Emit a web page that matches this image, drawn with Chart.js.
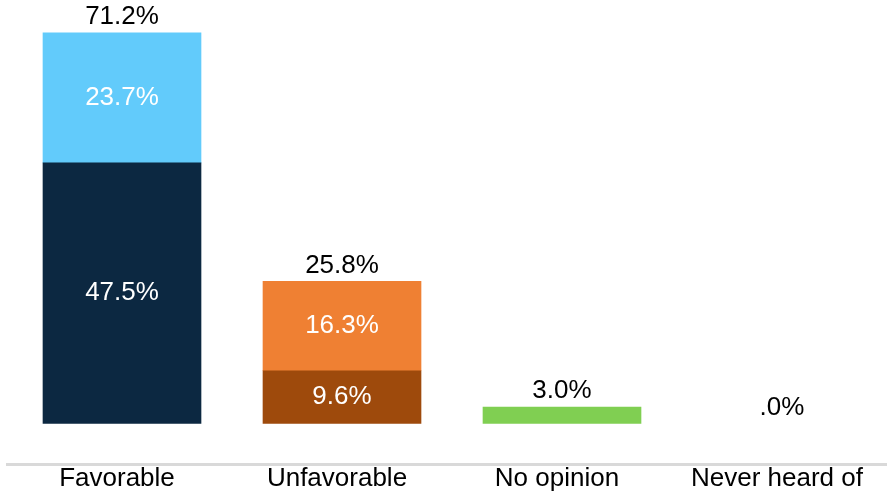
<!DOCTYPE html>
<html>
<head>
<meta charset="utf-8">
<script src="https://cdn.jsdelivr.net/npm/chart.js@4/dist/chart.umd.min.js"></script>
<style>
  html, body { margin: 0; padding: 0; background: #fff; }
  #wrap { width: 887px; height: 493px; }
</style>
</head>
<body>
<div id="wrap"><canvas id="chart"></canvas></div>
<script>
const categories = ['Favorable', 'Unfavorable', 'No opinion', 'Never heard of'];
const lowerValues = [47.5, 9.6, 3.0, 0];
const upperValues = [23.7, 16.3, 0, 0];
const totals = [71.2, 25.8, 3.0, 0];

const lowerColors = ['#0c2841', '#9e4a0c', '#80cf52', 'rgba(0,0,0,0)'];
const upperColors = ['#62cbfb', '#ef8033', 'rgba(0,0,0,0)', 'rgba(0,0,0,0)'];

const fontFamily = '"Liberation Sans", Arial, Helvetica, sans-serif';
const fontSize = 26;

// 47.5 -> "47.5%", 0 -> ".0%"
function formatPct(v) {
    return v.toFixed(1).replace(/^0\./, '.') + '%';
}

// bars sit a few pixels right of the category labels in the original
const barShift = 5;

const labelPlugin = {
    id: 'barLabels',
    beforeDatasetsDraw(chart) {
        chart.ctx.save();
        chart.ctx.translate(barShift, 0);
    },
    afterDatasetsDraw(chart) {
        const ctx = chart.ctx;
        const yScale = chart.scales.y;
        ctx.font = fontSize + 'px ' + fontFamily;
        ctx.textAlign = 'center';
        ctx.textBaseline = 'middle';

        // labels inside segments, only where a bar has two parts
        chart.data.datasets.forEach(function(ds, di) {
            const meta = chart.getDatasetMeta(di);
            meta.data.forEach(function(bar, i) {
                const parts = [lowerValues[i], upperValues[i]].filter(v => v > 0).length;
                if (parts < 2) return;
                ctx.fillStyle = '#ffffff';
                ctx.fillText(formatPct(ds.data[i]), bar.x, (bar.y + bar.base) / 2);
            });
        });

        // totals above each bar
        const meta0 = chart.getDatasetMeta(0);
        totals.forEach(function(t, i) {
            const x = meta0.data[i].x;
            const y = yScale.getPixelForValue(t) - 16;
            ctx.fillStyle = '#000000';
            ctx.fillText(formatPct(t), x, y);
        });
        ctx.restore();
    }
};

new Chart(document.getElementById('chart'), {
    type: 'bar',
    data: {
        labels: categories,
        datasets: [
            {
                label: 'Lower',
                data: lowerValues,
                backgroundColor: lowerColors,
                barThickness: 158
            },
            {
                label: 'Upper',
                data: upperValues,
                backgroundColor: upperColors,
                barThickness: 158
            }
        ]
    },
    options: {
        responsive: true,
        maintainAspectRatio: false,
        animation: false,
        layout: { padding: { left: 7, right: 0, top: 0, bottom: 0 } },
        plugins: {
            legend: { display: false },
            tooltip: { enabled: false }
        },
        scales: {
            x: {
                stacked: true,
                grid: { display: false, drawTicks: false },
                border: { display: true, color: '#d9d9d9', width: 3 },
                ticks: {
                    color: '#000000',
                    padding: 2,
                    font: { family: fontFamily, size: fontSize, lineHeight: 0.96 }
                }
            },
            y: {
                stacked: true,
                display: false,
                min: -7.4,
                max: 77.2
            }
        }
    },
    plugins: [labelPlugin]
});
</script>
</body>
</html>
